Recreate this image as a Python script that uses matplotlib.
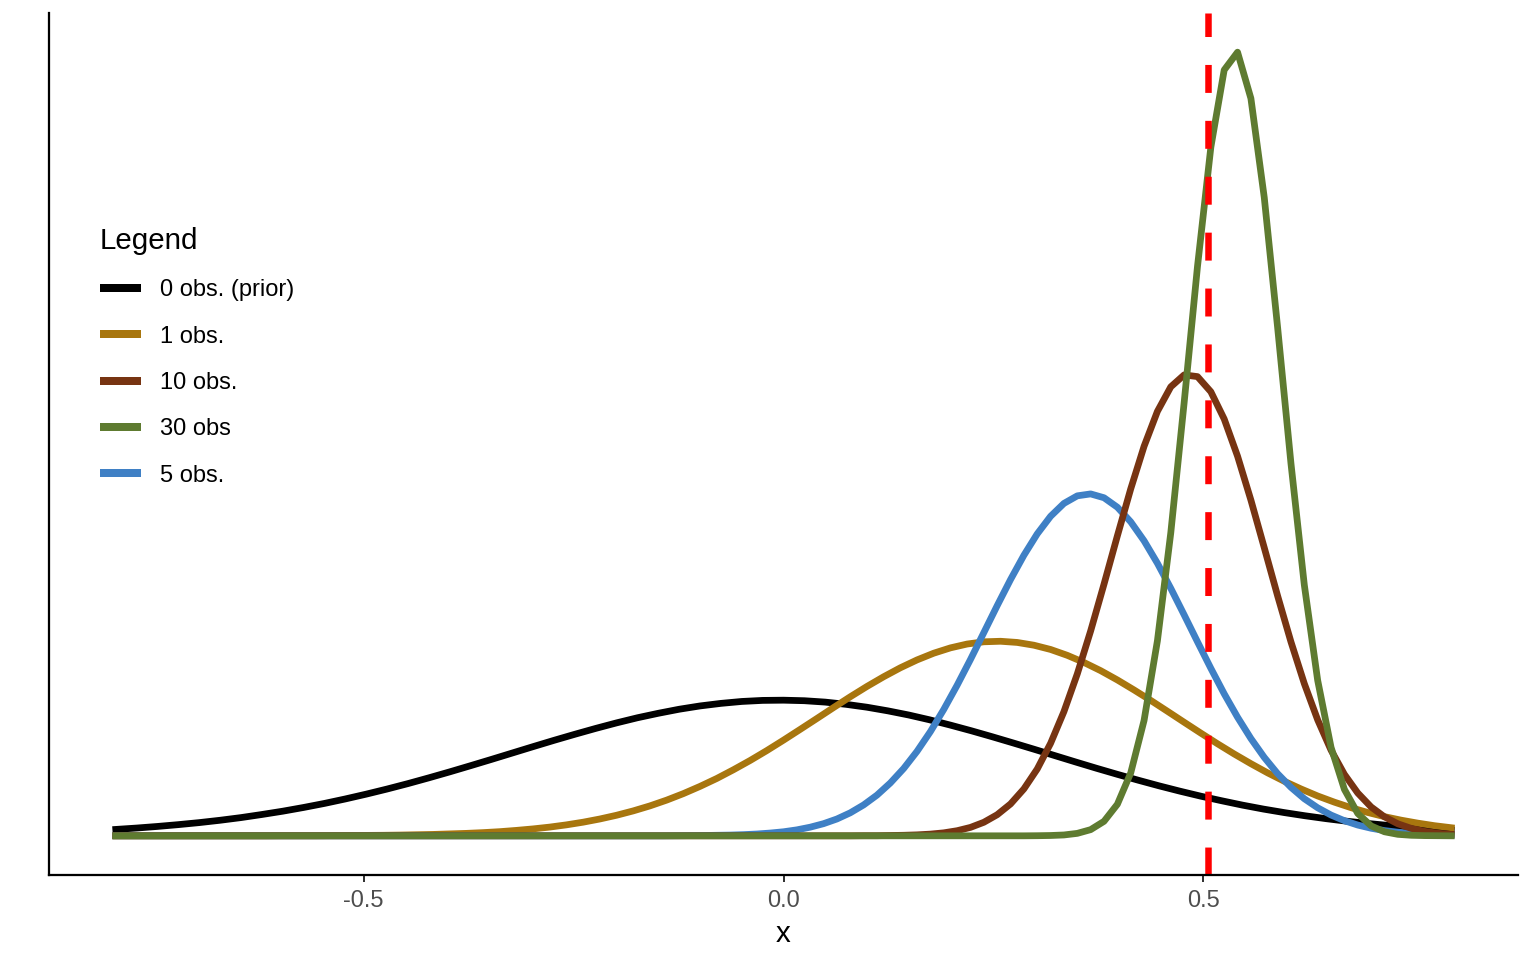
import numpy as np
import matplotlib.pyplot as plt
from matplotlib.lines import Line2D

plt.rcParams['font.family'] = ['Liberation Sans', 'DejaVu Sans']

# x positions of the sampled densities
x_prior = np.linspace(-0.795, 0.795, 65)
x_one = np.linspace(-0.795, 0.795, 81)
x_fine = np.linspace(-0.795, 0.795, 101)

# posterior densities
dens_prior = [0.060, 0.073, 0.088, 0.105, 0.124, 0.146, 0.171, 0.200, 0.231, 0.266,
              0.304, 0.346, 0.391, 0.439, 0.490, 0.544, 0.600, 0.658, 0.717, 0.777,
              0.837, 0.896, 0.953, 1.008, 1.060, 1.108, 1.150, 1.188, 1.219, 1.243,
              1.261, 1.271, 1.273, 1.268, 1.255, 1.234, 1.207, 1.173, 1.134, 1.089,
              1.039, 0.986, 0.930, 0.872, 0.813, 0.753, 0.693, 0.634, 0.577, 0.522,
              0.469, 0.419, 0.372, 0.329, 0.288, 0.251, 0.218, 0.188, 0.161, 0.137,
              0.116, 0.097, 0.082, 0.068, 0.056]

dens_1 = [0.000, 0.000, 0.000, 0.000, 0.000, 0.000, 0.000, 0.000, 0.000, 0.000,
          0.001, 0.001, 0.001, 0.002, 0.003, 0.004, 0.005, 0.007, 0.010, 0.013,
          0.018, 0.023, 0.030, 0.039, 0.051, 0.065, 0.082, 0.103, 0.128, 0.158,
          0.193, 0.234, 0.281, 0.335, 0.396, 0.464, 0.538, 0.620, 0.707, 0.800,
          0.898, 0.999, 1.101, 1.204, 1.305, 1.402, 1.493, 1.577, 1.651, 1.714,
          1.764, 1.800, 1.821, 1.826, 1.815, 1.789, 1.749, 1.694, 1.627, 1.550,
          1.463, 1.369, 1.271, 1.169, 1.066, 0.964, 0.864, 0.768, 0.677, 0.591,
          0.512, 0.440, 0.374, 0.316, 0.264, 0.219, 0.180, 0.147, 0.119, 0.095,
          0.076]

dens_5 = [0, 0, 0, 0, 0, 0, 0, 0, 0, 0,
          0, 0, 0, 0, 0, 0, 0, 0, 0, 0,
          0, 0, 0, 0, 0, 0, 0, 0, 0, 0,
          0, 0, 0, 0, 0, 0, 0, 0, 0, 0,
          0, 0,
          0.001, 0.002, 0.003, 0.005, 0.007, 0.011, 0.017, 0.026, 0.038, 0.056,
          0.081, 0.114, 0.158, 0.216, 0.290, 0.382, 0.496, 0.632, 0.793, 0.978,
          1.186, 1.413, 1.655, 1.907, 2.160, 2.405, 2.633, 2.834, 2.999, 3.120,
          3.191, 3.209, 3.173, 3.084, 2.947, 2.769, 2.558, 2.323, 2.074, 1.821,
          1.572, 1.333, 1.113, 0.913, 0.736, 0.583, 0.455, 0.348, 0.263, 0.195,
          0.142, 0.101, 0.071, 0.049, 0.034, 0.023, 0.015, 0.010, 0.006]

dens_10 = [0, 0, 0, 0, 0, 0, 0, 0, 0, 0,
           0, 0, 0, 0, 0, 0, 0, 0, 0, 0,
           0, 0, 0, 0, 0, 0, 0, 0, 0, 0,
           0, 0, 0, 0, 0, 0, 0, 0, 0, 0,
           0, 0, 0, 0, 0, 0, 0, 0, 0, 0,
           0, 0, 0, 0, 0, 0,
           0.001, 0.001, 0.003, 0.005, 0.009, 0.016, 0.028, 0.048, 0.079, 0.127,
           0.198, 0.299, 0.440, 0.627, 0.868, 1.166, 1.520, 1.923, 2.362, 2.815,
           3.256, 3.656, 3.984, 4.214, 4.326, 4.310, 4.168, 3.912, 3.563, 3.151,
           2.704, 2.252, 1.820, 1.428, 1.088, 0.804, 0.577, 0.402, 0.271, 0.178,
           0.113, 0.070, 0.042, 0.024, 0.014]

dens_30 = [0, 0, 0, 0, 0, 0, 0, 0, 0, 0,
           0, 0, 0, 0, 0, 0, 0, 0, 0, 0,
           0, 0, 0, 0, 0, 0, 0, 0, 0, 0,
           0, 0, 0, 0, 0, 0, 0, 0, 0, 0,
           0, 0, 0, 0, 0, 0, 0, 0, 0, 0,
           0, 0, 0, 0, 0, 0, 0, 0, 0, 0,
           0, 0, 0, 0, 0, 0, 0, 0,
           0.000, 0.001, 0.003, 0.008, 0.023, 0.058, 0.136, 0.296, 0.590, 1.083,
           1.831, 2.844, 4.065, 5.344, 6.463, 7.188, 7.355, 6.921, 5.991, 4.771,
           3.494, 2.354, 1.459, 0.831, 0.436, 0.210, 0.093, 0.038, 0.014, 0.005,
           0.002, 0.001, 0.000]

true_value = 0.506

labels = ['0 obs. (prior)', '1 obs.', '10 obs.', '30 obs', '5 obs.']
colors = {'0 obs. (prior)': '#000000', '1 obs.': '#A8760E', '10 obs.': '#773412',
          '30 obs': '#5E7B30', '5 obs.': '#3F80C5'}

fig = plt.figure(figsize=(1536 / 180, 960 / 180), dpi=180)
ax = fig.add_axes([49 / 1536, 85 / 960, 1469 / 1536, 862 / 960])

lw = 2.7
ax.plot(x_prior, dens_prior, color=colors['0 obs. (prior)'], lw=lw)
ax.plot(x_one, dens_1, color=colors['1 obs.'], lw=lw)
ax.plot(x_fine, dens_5, color=colors['5 obs.'], lw=lw)
ax.plot(x_fine, dens_10, color=colors['10 obs.'], lw=lw)
ax.plot(x_fine, dens_30, color=colors['30 obs'], lw=lw)
ax.axvline(true_value, color='#FF0000', lw=2.6, dashes=(4.3, 4.3))

rng = x_fine[-1] - x_fine[0]
ax.set_xlim(x_fine[0] - 0.05 * rng, x_fine[-1] + 0.05 * rng)
ymax = max(dens_30)
ax.set_ylim(-0.05 * ymax, 1.05 * ymax)

ax.spines['top'].set_visible(False)
ax.spines['right'].set_visible(False)
for s in ('left', 'bottom'):
    ax.spines[s].set_linewidth(0.9)
ax.set_yticks([])
ax.set_xticks([-0.5, 0.0, 0.5])
ax.set_xticklabels(['-0.5', '0.0', '0.5'])
ax.tick_params(axis='x', direction='out', length=2.75, width=0.8, color='#333333',
               pad=3.4, labelsize=9.45, labelcolor='#4D4D4D')
ax.set_xlabel('x', fontsize=11.8, labelpad=3)

handles = [Line2D([], [], color=colors[l], lw=3.2, solid_capstyle='butt') for l in labels]
leg = ax.legend(handles, labels, loc='upper left',
                bbox_to_anchor=(100 / 1536, 1 - 227 / 960),
                bbox_transform=fig.transFigure, frameon=False,
                title='Legend', title_fontsize=11.8, fontsize=9.45,
                alignment='left', borderpad=0, borderaxespad=0,
                handlelength=1.73, handletextpad=0.8, labelspacing=1.03)

fig.savefig('out.png', dpi=180)
